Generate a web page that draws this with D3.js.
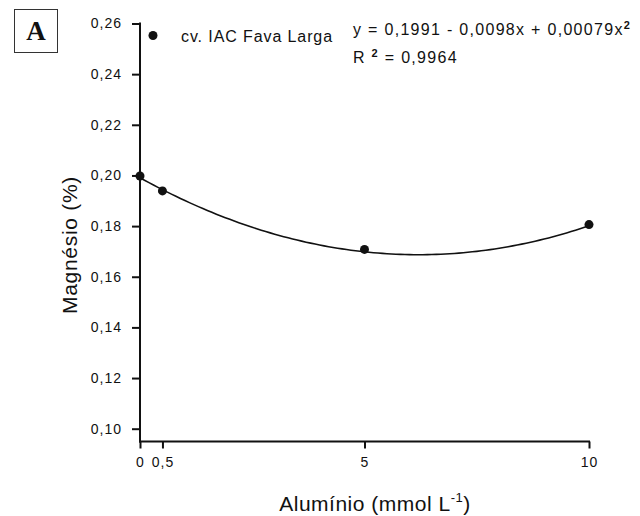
<!DOCTYPE html>
<html>
<head>
<meta charset="utf-8">
<script src="https://cdn.jsdelivr.net/npm/d3@7/dist/d3.min.js"></script>
<style>
  html, body { margin: 0; padding: 0; background: #fff; }
  svg { display: block; }
  text { font-family: "Liberation Sans", Arial, sans-serif; fill: #111; }
</style>
</head>
<body>
<svg id="chart" width="640" height="516"></svg>
<script>
// Aluminium dose (mmol L-1) and measured magnesium content (%)
const aluminio = [0, 0.5, 5, 10];
const magnesio = [0.1998, 0.1939, 0.1708, 0.1806];

// Fitted quadratic: y = b0 + b1*x + b2*x^2
const coefs = [0.1991, -0.0098, 0.00079];
const r2 = "0,9964";

const xTicks = [0, 0.5, 5, 10];
const xTickLabels = ["0", "0,5", "5", "10"];
const yTicks = [0.10, 0.12, 0.14, 0.16, 0.18, 0.20, 0.22, 0.24, 0.26];
const cultivar = "cv. IAC Fava Larga";

const svg = d3.select("#chart");
const x = d3.scaleLinear().domain([0, 10]).range([140, 589]);
const y = d3.scaleLinear().domain([0.10, 0.26]).range([428.7, 23.5]);
const baseY = 441.5;
const ink = "#111";

// Y axis
const yAxis = svg.append("g")
  .attr("transform", `translate(${x(0)},0)`)
  .call(d3.axisLeft(y).tickValues(yTicks).tickSize(8).tickPadding(10)
    .tickFormat(d => d.toFixed(2).replace(".", ",")));
yAxis.select(".domain").remove();
yAxis.selectAll(".tick line").attr("stroke", ink).attr("stroke-width", 2);
yAxis.selectAll(".tick text").attr("font-size", 14).attr("letter-spacing", 1).attr("fill", ink);
svg.append("line").attr("x1", x(0)).attr("x2", x(0))
  .attr("y1", y(0.26) - 1).attr("y2", baseY + 1)
  .attr("stroke", ink).attr("stroke-width", 2);

// X axis
const xAxis = svg.append("g")
  .attr("transform", `translate(0,${baseY})`)
  .call(d3.axisBottom(x).tickValues(xTicks).tickSize(7).tickPadding(9)
    .tickFormat((d, i) => xTickLabels[i]));
xAxis.select(".domain").remove();
xAxis.selectAll(".tick line").attr("stroke", ink).attr("stroke-width", 2);
xAxis.selectAll(".tick text").attr("font-size", 14).attr("letter-spacing", 1).attr("fill", ink);
svg.append("line").attr("x1", x(0) - 1).attr("x2", x(10) + 1)
  .attr("y1", baseY).attr("y2", baseY)
  .attr("stroke", ink).attr("stroke-width", 2);

// Fitted curve
const fit = v => coefs[0] + coefs[1] * v + coefs[2] * v * v;
const curvePts = d3.range(0, 10.001, 0.1).map(v => [v, fit(v)]);
svg.append("path")
  .datum(curvePts)
  .attr("fill", "none").attr("stroke", ink).attr("stroke-width", 1.6)
  .attr("d", d3.line().x(d => x(d[0])).y(d => y(d[1])));

// Observed points
svg.append("g").selectAll("circle")
  .data(aluminio.map((a, i) => [a, magnesio[i]]))
  .join("circle")
  .attr("cx", d => x(d[0])).attr("cy", d => y(d[1])).attr("r", 4.5)
  .attr("fill", ink);

// Legend
svg.append("circle").attr("cx", 153).attr("cy", 35.5).attr("r", 4.5).attr("fill", ink);
svg.append("text").attr("x", 181).attr("y", 42).attr("font-size", 16)
  .attr("letter-spacing", 0.9).text(cultivar);

// Equation and R²
const eq = svg.append("text").attr("x", 353).attr("y", 35).attr("font-size", 16).attr("letter-spacing", 1.3);
eq.append("tspan").text("y = 0,1991  - 0,0098x + 0,00079x");
eq.append("tspan").attr("font-size", 11).attr("font-weight", "bold").attr("dy", -6).text("2");
const rr = svg.append("text").attr("x", 353).attr("y", 63).attr("font-size", 16).attr("letter-spacing", 1.3);
rr.append("tspan").text("R ");
rr.append("tspan").attr("font-size", 11).attr("font-weight", "bold").attr("dy", -6).text("2");
rr.append("tspan").attr("dy", 6).text(" = " + r2);

// Axis titles
svg.append("text")
  .attr("transform", "translate(77,245) rotate(-90)")
  .attr("text-anchor", "middle").attr("font-size", 21).attr("letter-spacing", 0.7)
  .text("Magnésio (%)");
const xl = svg.append("text").attr("x", 375).attr("y", 511)
  .attr("text-anchor", "middle").attr("font-size", 21).attr("letter-spacing", 0.5);
xl.append("tspan").text("Alumínio (mmol L");
xl.append("tspan").attr("font-size", 13).attr("dy", -9).text("-1");
xl.append("tspan").attr("dy", 9).text(")");

// Panel tag
svg.append("rect").attr("x", 14.5).attr("y", 9.5).attr("width", 43).attr("height", 43)
  .attr("fill", "none").attr("stroke", "#333").attr("stroke-width", 1);
svg.append("text").attr("x", 36).attr("y", 39.5).attr("text-anchor", "middle")
  .style("font-family", "'Liberation Serif', 'Times New Roman', serif")
  .style("font-weight", "bold").style("font-size", "27px").text("A");
</script>
</body>
</html>
